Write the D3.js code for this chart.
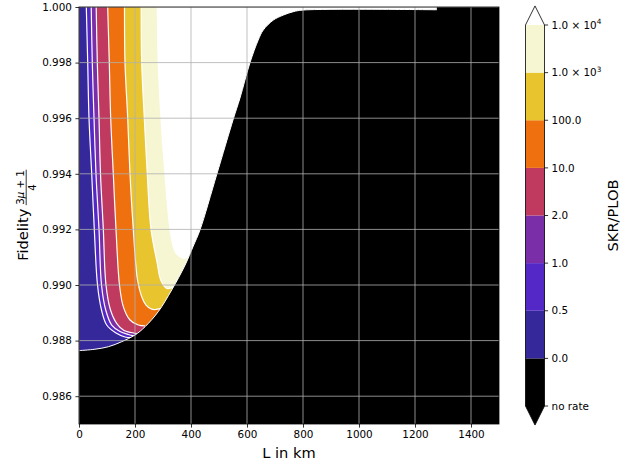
<!DOCTYPE html>
<html>
<head>
<meta charset="utf-8">
<script src="https://d3js.org/d3.v7.min.js"></script>
<style>
  body { margin: 0; background: #fff; }
  svg { font-family: "DejaVu Sans", sans-serif; }
</style>
</head>
<body>
<script>
// SKR/PLOB over distance L (km) and fidelity, contour lines
var xTicks = [0, 200, 400, 600, 800, 1000, 1200, 1400];
var yTicks = [0.986, 0.988, 0.990, 0.992, 0.994, 0.996, 0.998, 1.000];
var levelLabels = ["no rate", "0.0", "0.5", "1.0", "2.0", "10.0", "100.0", "1.0 × 10^3", "1.0 × 10^4"];
var bandColors = ["#000000", "#35289a", "#5328c6", "#7a2ea8", "#c03a60", "#ee700e", "#e8c52f", "#f7f6d3"];
var overColor = "#ffffff";

// each contour: [L, fidelity] from the top edge down to where it meets the cutoff
var contour05 = [[26.1, 1.0], [31.1, 0.99799], [35.7, 0.99601], [45.4, 0.99399], [54.6, 0.99201],
  [66.1, 0.99000], [80.4, 0.98910], [98.9, 0.98856], [132.1, 0.98827], [164.3, 0.98813], [185.7, 0.98811]];
var contour1 = [[43.6, 1.0], [47.5, 0.99799], [53.6, 0.99601], [60.7, 0.99399], [71.4, 0.99201],
  [80.4, 0.99000], [95.4, 0.98910], [116.8, 0.98856], [146.4, 0.98833], [176.1, 0.98822], [196.4, 0.98817]];
var contour2 = [[61.4, 1.0], [65.4, 0.99799], [71.4, 0.99601], [76.8, 0.99399], [86.8, 0.99201],
  [96.4, 0.99000], [112.5, 0.98910], [135.7, 0.98860], [160.7, 0.98836], [185.7, 0.98829], [207.1, 0.98824]];
var contour10 = [[102.5, 1.0], [108.2, 0.99799], [113.2, 0.99601], [122.5, 0.99399], [132.1, 0.99201],
  [144.6, 0.99000], [158.2, 0.98922], [182.1, 0.98874], [211.8, 0.98856], [235.7, 0.98853]];
var contour100 = [[162.5, 1.0], [164.3, 0.99799], [173.9, 0.99601], [182.1, 0.99399], [193.9, 0.99201],
  [208.9, 0.99018], [223.9, 0.98958], [239.3, 0.98928], [259.6, 0.98913], [275, 0.98912], [289.3, 0.98915]];
var contour1e3 = [[222.1, 1.0], [223.9, 0.99799], [233.2, 0.99601], [243.9, 0.99399], [257.1, 0.99201],
  [279.6, 0.99078], [291.8, 0.99018], [313.2, 0.98988], [328.6, 0.98989], [341.1, 0.98996]];
var contour1e4 = [[279.6, 1.0], [283.2, 0.99799], [292.9, 0.99601], [307.1, 0.99399], [325, 0.99201],
  [336.8, 0.99138], [346.4, 0.99115], [372.5, 0.99096], [385.7, 0.99100], [396.4, 0.99112]];

// edge of the "no rate" region
var cutoffBoundary = [[0, 0.98764], [57, 0.98769], [105, 0.98778], [152.5, 0.98796], [200, 0.98820],
  [236, 0.98850], [283, 0.98904], [331, 0.98982], [379, 0.99072], [408, 0.99140], [432, 0.99198],
  [492, 0.99398], [551, 0.99597], [575, 0.99673], [611, 0.99801], [640, 0.99881], [658, 0.99917],
  [694, 0.99953], [730, 0.99971], [765, 0.99983], [800, 0.99989], [1278, 0.9999]];
var cutoffTop = [[1278, 0.9999], [1278, 1.0], [1500, 1.0], [1500, 0.985], [0, 0.985]];

var contours = [contour05, contour1, contour2, contour10, contour100, contour1e3, contour1e4];
var fills = bandColors.slice(2).concat([overColor]);

var w = 636, h = 467;
var x = d3.scaleLinear().domain([0, 1500]).range([79, 499]);
var y = d3.scaleLinear().domain([0.985, 1.0]).range([424, 7]);

var svg = d3.select("body").append("svg").attr("width", w).attr("height", h);

svg.append("clipPath").attr("id", "plot")
  .append("rect").attr("x", x(0)).attr("y", y(1)).attr("width", x(1500) - x(0)).attr("height", y(0.985) - y(1));

var plot = svg.append("g").attr("clip-path", "url(#plot)");

var curve = d3.line().x(function (d) { return x(d[0]); }).y(function (d) { return y(d[1]); })
  .curve(d3.curveCatmullRom.alpha(0.5));
var straight = d3.line().x(function (d) { return x(d[0]); }).y(function (d) { return y(d[1]); });

// lowest band covers everything, higher bands stack on top
plot.append("rect").attr("x", x(0)).attr("y", y(1)).attr("width", x(1500) - x(0))
  .attr("height", y(0.985) - y(1)).attr("fill", bandColors[1]);

contours.forEach(function (c, i) {
  var last = c[c.length - 1];
  var d = curve(c) + "L" + x(1500) + "," + y(last[1]) + "L" + x(1500) + "," + y(1) + "Z";
  plot.append("path").attr("d", d).attr("fill", fills[i]);
});

contours.forEach(function (c) {
  plot.append("path").attr("d", curve(c)).attr("fill", "none")
    .attr("stroke", "#fff").attr("stroke-width", 1.2);
});

plot.append("path")
  .attr("d", curve(cutoffBoundary) + straight(cutoffTop).replace("M", "L") + "Z")
  .attr("fill", bandColors[0]);
plot.append("path").attr("d", curve(cutoffBoundary)).attr("fill", "none")
  .attr("stroke", "#fff").attr("stroke-width", 1);

// grid
plot.selectAll(".gx").data(xTicks).enter().append("line")
  .attr("x1", function (d) { return x(d); }).attr("x2", function (d) { return x(d); })
  .attr("y1", y(1)).attr("y2", y(0.985)).attr("stroke", "#b0b0b0").attr("stroke-width", 0.8);
plot.selectAll(".gy").data(yTicks).enter().append("line")
  .attr("y1", function (d) { return y(d); }).attr("y2", function (d) { return y(d); })
  .attr("x1", x(0)).attr("x2", x(1500)).attr("stroke", "#b0b0b0").attr("stroke-width", 0.8);

svg.append("rect").attr("x", x(0)).attr("y", y(1)).attr("width", x(1500) - x(0))
  .attr("height", y(0.985) - y(1)).attr("fill", "none").attr("stroke", "#000").attr("stroke-width", 0.8);

var xAxis = svg.append("g").attr("transform", "translate(0," + y(0.985) + ")")
  .call(d3.axisBottom(x).tickValues(xTicks).tickSize(3.6).tickPadding(3.5).tickFormat(d3.format("d")));
var yAxis = svg.append("g").attr("transform", "translate(" + x(0) + ",0)")
  .call(d3.axisLeft(y).tickValues(yTicks).tickSize(3.6).tickPadding(3.5).tickFormat(d3.format(".3f")));
[xAxis, yAxis].forEach(function (a) {
  a.select(".domain").remove();
  a.attr("font-family", "DejaVu Sans").attr("font-size", 10.4);
  a.selectAll("line").attr("stroke", "#000").attr("stroke-width", 0.8);
  a.selectAll("text").attr("fill", "#000");
});

svg.append("text").attr("x", (x(0) + x(1500)) / 2).attr("y", 457.5).attr("text-anchor", "middle")
  .attr("font-size", 14.6).text("L in km");

// y label with fraction
var yl = svg.append("g").attr("transform", "translate(28," + (y(1) + y(0.985)) / 2 + ") rotate(-90)");
var t1 = yl.append("text").attr("font-size", 14.6).text("Fidelity");
var num = yl.append("text").attr("font-size", 10.2).attr("text-anchor", "middle");
num.append("tspan").text("3");
num.append("tspan").attr("font-style", "italic").text("μ");
num.append("tspan").text(" + 1");
var den = yl.append("text").attr("font-size", 10.2).attr("text-anchor", "middle").text("4");
var wF = t1.node().getComputedTextLength(), wN = num.node().getComputedTextLength(), gap = 4;
var start = -(wF + gap + wN) / 2, cx = start + wF + gap + wN / 2;
t1.attr("x", start);
num.attr("x", cx).attr("y", -3.6);
den.attr("x", cx).attr("y", 8);
yl.append("line").attr("x1", cx - wN / 2 - 0.5).attr("x2", cx + wN / 2 + 0.5)
  .attr("y1", -1.8).attr("y2", -1.8).attr("stroke", "#000").attr("stroke-width", 0.8);

// colorbar
var cb = d3.scalePoint().domain(levelLabels).range([406, 25]);
var cbL = 525.5, cbR = 544.5;
var cbTop = cb(levelLabels[levelLabels.length - 1]), cbBot = cb(levelLabels[0]);
var ext = 0.05 * (cbBot - cbTop), cbMid = (cbL + cbR) / 2;
var cbg = svg.append("g");
for (var i = 0; i < levelLabels.length - 1; i++) {
  cbg.append("rect").attr("x", cbL).attr("width", cbR - cbL)
    .attr("y", cb(levelLabels[i + 1])).attr("height", cb(levelLabels[i]) - cb(levelLabels[i + 1]))
    .attr("fill", bandColors[i]);
}
cbg.append("path").attr("d", "M" + cbL + "," + cbTop + "L" + cbMid + "," + (cbTop - ext) + "L" + cbR + "," + cbTop + "Z")
  .attr("fill", overColor);
cbg.append("path").attr("d", "M" + cbL + "," + cbBot + "L" + cbMid + "," + (cbBot + ext) + "L" + cbR + "," + cbBot + "Z")
  .attr("fill", bandColors[0]);
cbg.append("path")
  .attr("d", "M" + cbL + "," + cbTop + "L" + cbMid + "," + (cbTop - ext) + "L" + cbR + "," + cbTop +
    "L" + cbR + "," + cbBot + "L" + cbMid + "," + (cbBot + ext) + "L" + cbL + "," + cbBot + "Z")
  .attr("fill", "none").attr("stroke", "#000").attr("stroke-width", 0.8);

levelLabels.forEach(function (lab) {
  var yy = cb(lab);
  cbg.append("line").attr("x1", cbR).attr("x2", cbR + 3.6).attr("y1", yy).attr("y2", yy)
    .attr("stroke", "#000").attr("stroke-width", 0.8);
  var t = cbg.append("text").attr("x", cbR + 7.1).attr("y", yy).attr("dy", "0.35em").attr("font-size", 10.4);
  if (lab.indexOf("^") >= 0) {
    var parts = lab.split("^");
    t.append("tspan").text(parts[0]);
    t.append("tspan").attr("font-size", 7.3).attr("dy", -4.5).text(parts[1]);
  } else {
    t.text(lab);
  }
});

svg.append("text").attr("transform", "translate(618," + (cbTop + cbBot) / 2 + ") rotate(-90)")
  .attr("text-anchor", "middle").attr("font-size", 14.6).text("SKR/PLOB");
</script>
</body>
</html>
